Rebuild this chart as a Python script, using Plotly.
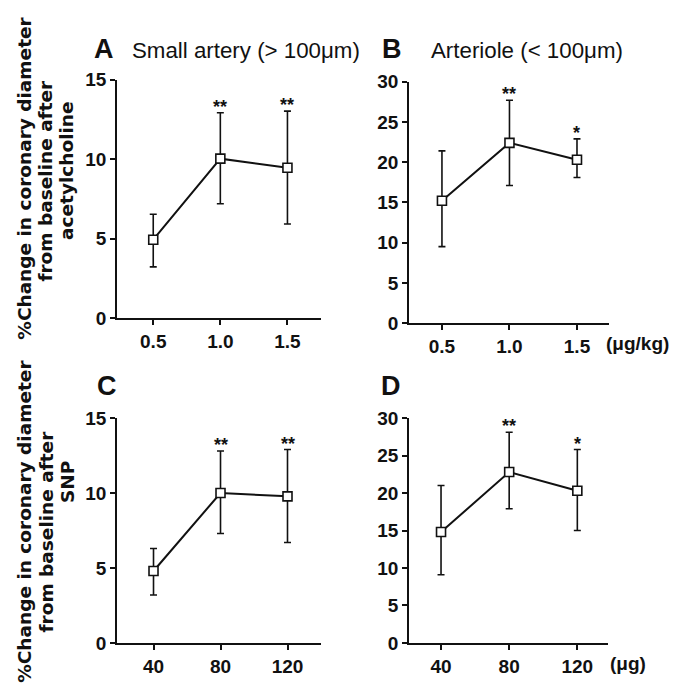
import plotly.graph_objects as go

# ---------------- data ----------------
dose_ach = [0.5, 1.0, 1.5]            # µg/kg
dose_snp = [40, 80, 120]              # µg

# Panel A: small artery, acetylcholine
a_mean = [4.94, 10.04, 9.47]
a_upper = [6.54, 12.93, 13.03]
a_lower = [3.23, 7.20, 5.93]
a_sig = ["", "**", "**"]

# Panel B: arteriole, acetylcholine
b_mean = [15.2, 22.4, 20.3]
b_upper = [21.4, 27.7, 22.9]
b_lower = [9.5, 17.1, 18.1]
b_sig = ["", "**", "*"]

# Panel C: small artery, SNP
c_mean = [4.8, 10.0, 9.78]
c_upper = [6.3, 12.8, 12.9]
c_lower = [3.2, 7.3, 6.7]
c_sig = ["", "**", "**"]

# Panel D: arteriole, SNP
d_mean = [14.8, 22.8, 20.3]
d_upper = [21.0, 28.1, 25.8]
d_lower = [9.1, 17.9, 15.0]
d_sig = ["", "**", "*"]

tick_ach = ["0.5", "1.0", "1.5"]
tick_snp = ["40", "80", "120"]

W, H = 676, 684


def px(x):
    return x / W


def py(y):
    return 1 - y / H


BLACK = "#111111"
TICKFONT = dict(family="Liberation Sans, Arial, sans-serif", size=19, color=BLACK, weight="bold")

fig = go.Figure()

panels = [
    ("x", "y", dose_ach, a_mean, a_upper, a_lower, a_sig),
    ("x2", "y2", dose_ach, b_mean, b_upper, b_lower, b_sig),
    ("x3", "y3", dose_snp, c_mean, c_upper, c_lower, c_sig),
    ("x4", "y4", dose_snp, d_mean, d_upper, d_lower, d_sig),
]

annotations = []
for xa, ya, xs, m, up, lo, sig in panels:
    plus = [u - v for u, v in zip(up, m)]
    minus = [v - l for v, l in zip(m, lo)]
    fig.add_trace(go.Scatter(
        x=xs, y=m, xaxis=xa, yaxis=ya, mode="lines+markers",
        line=dict(color=BLACK, width=2),
        marker=dict(symbol="square", size=9, color="white",
                    line=dict(color=BLACK, width=1.6)),
        error_y=dict(type="data", symmetric=False, array=plus, arrayminus=minus,
                     color=BLACK, thickness=1.6, width=3.5),
        showlegend=False, hoverinfo="skip",
    ))
    for xv, uv, s in zip(xs, up, sig):
        if s:
            annotations.append(dict(
                x=xv, y=uv, xref=xa, yref=ya, text=s, showarrow=False,
                yanchor="bottom", yshift=-6,
                font=dict(family="Liberation Sans, Arial, sans-serif", size=18,
                          color=BLACK, weight="bold"),
            ))

axis_common = dict(showline=True, linecolor=BLACK, linewidth=1.6,
                   ticks="outside", ticklen=5, tickwidth=1.6, tickcolor=BLACK,
                   showgrid=False, zeroline=False, tickfont=TICKFONT)

layout = dict(
    width=W, height=H, margin=dict(l=0, r=0, t=0, b=0),
    paper_bgcolor="white", plot_bgcolor="white",
    xaxis=dict(domain=[px(117), px(321)], anchor="y", range=[0.23, 1.75],
               tickvals=dose_ach, ticktext=tick_ach, ticklabelstandoff=0, **axis_common),
    yaxis=dict(domain=[py(318), py(72)], anchor="x", range=[0, 15],
               tickvals=[0, 5, 10, 15], **axis_common),
    xaxis2=dict(domain=[px(409), px(609)], anchor="y2", range=[0.256, 1.737],
                tickvals=dose_ach, ticktext=tick_ach, ticklabelstandoff=0, **axis_common),
    yaxis2=dict(domain=[py(323), py(74)], anchor="x2", range=[0, 30],
                tickvals=[0, 5, 10, 15, 20, 25, 30], **axis_common),
    xaxis3=dict(domain=[px(117), px(321)], anchor="y3", range=[18.2, 140],
                tickvals=dose_snp, ticktext=tick_snp, ticklabelstandoff=0, **axis_common),
    yaxis3=dict(domain=[py(653), py(421)], anchor="x3", range=[0, 15],
                tickvals=[0, 5, 10, 15], **axis_common),
    xaxis4=dict(domain=[px(409), px(608)], anchor="y4", range=[21.2, 138],
                tickvals=dose_snp, ticktext=tick_snp, ticklabelstandoff=0, **axis_common),
    yaxis4=dict(domain=[py(653), py(421)], anchor="x4", range=[0, 30],
                tickvals=[0, 5, 10, 15, 20, 25, 30], **axis_common),
)

LETTER = dict(family="Liberation Sans, Arial, sans-serif", size=27, color=BLACK, weight="bold")
SUB = dict(family="Liberation Sans, Arial, sans-serif", size=22.3, color=BLACK)
YT = dict(family="DejaVu Sans, sans-serif", size=18.5, color=BLACK, weight="bold")
UNIT = dict(family="Liberation Sans, Arial, sans-serif", size=19, color=BLACK, weight="bold")


def paper_text(text, x, y, font, xanchor="center", yanchor="middle", angle=0):
    annotations.append(dict(text=text, x=px(x), y=py(y), xref="paper", yref="paper",
                            xanchor=xanchor, yanchor=yanchor, showarrow=False,
                            font=font, textangle=angle))


paper_text("A", 104, 40, LETTER)
paper_text("Small artery (> 100μm)", 130, 42, SUB, xanchor="left")
paper_text("B", 392, 40, LETTER)
paper_text("Arteriole (< 100μm)", 429, 42, SUB, xanchor="left")
paper_text("C", 107, 388, LETTER)
paper_text("D", 391, 388, LETTER)

paper_text("(μg/kg)", 604, 344, UNIT, xanchor="left")
paper_text("(μg)", 608, 674, UNIT, xanchor="left")

# y-axis titles, one annotation per printed line
paper_text("%Change in coronary diameter", 25, 174, YT, angle=-90)
paper_text("from baseline after", 46, 176, YT, angle=-90)
paper_text("acetylcholine", 67, 166, YT, angle=-90)

paper_text("%Change in coronary diameter", 25, 528, YT, angle=-90)
paper_text("from baseline after", 46, 538, YT, angle=-90)
paper_text("SNP", 67, 487, YT, angle=-90)

layout["annotations"] = annotations
fig.update_layout(**layout)
fig.write_html("out.html", config={"displayModeBar": False},
               post_script="document.body.style.margin='0px';")
